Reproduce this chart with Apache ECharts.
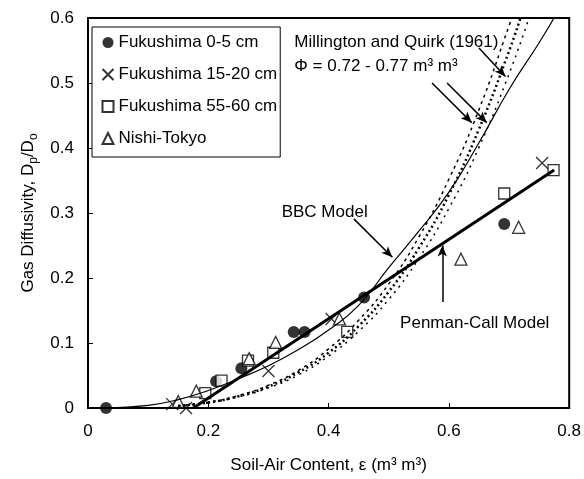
<!DOCTYPE html>
<html>
<head>
<meta charset="utf-8">
<script src="https://cdn.jsdelivr.net/npm/echarts@6/dist/echarts.min.js"></script>
<style>
  html, body { margin: 0; padding: 0; background: #fff; }
  #main { width: 584px; height: 479px; }
</style>
</head>
<body>
<div id="main"></div>
<script>
// measured points: [soil-air content, Dp/Do]
const fuku0_5 = [[0.03, 0.0], [0.213, 0.041], [0.255, 0.061], [0.342, 0.117], [0.36, 0.117], [0.459, 0.17], [0.692, 0.283]];
const fuku15_20 = [[0.14, 0.006], [0.163, 0.0], [0.30, 0.057], [0.405, 0.137], [0.755, 0.377]];
const fuku55_60 = [[0.195, 0.023], [0.222, 0.042], [0.266, 0.073], [0.308, 0.085], [0.431, 0.117], [0.692, 0.33], [0.774, 0.366]];
const nishiTokyo = [[0.15, 0.01], [0.18, 0.026], [0.268, 0.076], [0.312, 0.101], [0.418, 0.137], [0.62, 0.229], [0.716, 0.278]];

// model curves
const bbcModel = [[0.03, 0], [0.1, 0.004], [0.15, 0.013], [0.2, 0.027], [0.25, 0.045], [0.3, 0.065], [0.35, 0.09],
  [0.4, 0.12], [0.45, 0.158], [0.5, 0.216], [0.55, 0.272], [0.6, 0.332], [0.65, 0.408], [0.7, 0.49], [0.75, 0.562], [0.778, 0.605]];
const penmanCall = [[0.175, 0], [0.775, 0.366]];
const mqA = [[0.15, 0.0035], [0.2, 0.009], [0.25, 0.019], [0.3, 0.035], [0.35, 0.058], [0.4, 0.091], [0.45, 0.135],
  [0.5, 0.191], [0.55, 0.263], [0.6, 0.352], [0.65, 0.459], [0.7, 0.588], [0.705, 0.602]];
const mqB = [[0.15, 0.0033], [0.2, 0.0084], [0.25, 0.018], [0.3, 0.033], [0.35, 0.055], [0.4, 0.085], [0.45, 0.126],
  [0.5, 0.179], [0.55, 0.246], [0.6, 0.328], [0.65, 0.429], [0.7, 0.549], [0.72, 0.603]];
const mqC = [[0.15, 0.0031], [0.2, 0.0079], [0.25, 0.017], [0.3, 0.031], [0.35, 0.051], [0.4, 0.08], [0.45, 0.118],
  [0.5, 0.167], [0.55, 0.23], [0.6, 0.307], [0.65, 0.401], [0.7, 0.514], [0.735, 0.605]];

const xTicks = [0, 0.2, 0.4, 0.6, 0.8];
const yTicks = [0, 0.1, 0.2, 0.3, 0.4, 0.5, 0.6];

const FONT = 'Liberation Sans, Arial, sans-serif';
const chart = echarts.init(document.getElementById('main'));

const txt = (coord, text, pos) => ({
  coord: coord, symbol: 'circle', symbolSize: 0,
  label: { show: true, formatter: text, position: pos, distance: 0, color: '#000', fontSize: 17, fontFamily: FONT }
});

const option = {
  animation: false,
  backgroundColor: '#fff',
  grid: { left: 88, right: 13, top: 18, bottom: 70, show: true, borderColor: '#000', borderWidth: 2 },
  legend: {
    data: ['Fukushima 0-5 cm', 'Fukushima 15-20 cm', 'Fukushima 55-60 cm', 'Nishi-Tokyo'],
    orient: 'vertical', left: 92, top: 27,
    itemWidth: 11, itemHeight: 11, itemGap: 15,
    padding: [7, 3, 10, 8],
    borderColor: '#000', borderWidth: 1, backgroundColor: '#fff',
    textStyle: { color: '#000', fontSize: 17, fontFamily: FONT }
  },
  xAxis: {
    type: 'value', min: xTicks[0], max: xTicks[xTicks.length - 1], interval: 0.2,
    name: 'Soil-Air Content, ε (m³ m³)', nameLocation: 'middle', nameGap: 49,
    nameTextStyle: { color: '#000', fontSize: 17, fontFamily: FONT },
    axisLine: { lineStyle: { color: '#000', width: 2 } },
    axisTick: { inside: true, length: 5, lineStyle: { color: '#000' } },
    axisLabel: { color: '#000', fontSize: 17, fontFamily: FONT, margin: 15 },
    splitLine: { show: false }
  },
  yAxis: {
    type: 'value', min: yTicks[0], max: yTicks[yTicks.length - 1], interval: 0.1,
    name: 'Gas Diffusivity, D{s|p}/D{s|o}', nameLocation: 'middle', nameGap: 45,
    nameTextStyle: {
      color: '#000', fontSize: 17, fontFamily: FONT, lineHeight: 22,
      rich: { s: { fontSize: 12, fontFamily: FONT, color: '#000', verticalAlign: 'bottom', lineHeight: 22 } }
    },
    axisLine: { lineStyle: { color: '#000', width: 2 } },
    axisTick: { inside: true, length: 5, lineStyle: { color: '#000' } },
    axisLabel: { color: '#000', fontSize: 17, fontFamily: FONT, margin: 14 },
    splitLine: { show: false }
  },
  series: [
    { name: 'MQ 0.72', type: 'line', data: mqA, smooth: true, showSymbol: false, silent: true,
      lineStyle: { color: '#000', width: 1.5, type: [3, 4] } },
    { name: 'MQ 0.745', type: 'line', data: mqB, smooth: true, showSymbol: false, silent: true,
      lineStyle: { color: '#000', width: 2.5, type: [2, 3] } },
    { name: 'MQ 0.77', type: 'line', data: mqC, smooth: true, showSymbol: false, silent: true,
      lineStyle: { color: '#000', width: 1.5, type: [2, 5] } },
    { name: 'Penman-Call', type: 'line', data: penmanCall, showSymbol: false, silent: true,
      lineStyle: { color: '#000', width: 3 } },
    { name: 'BBC', type: 'line', data: bbcModel, smooth: true, showSymbol: false, silent: true,
      lineStyle: { color: '#000', width: 1.2 },
      markLine: {
        silent: true, symbol: ['none', 'arrow'], symbolSize: [7, 11],
        lineStyle: { color: '#000', width: 1.5, type: 'solid' },
        label: { show: false },
        data: [
          [{ coord: [0.442, 0.291] }, { coord: [0.506, 0.232] }],
          [{ coord: [0.589, 0.163] }, { coord: [0.589, 0.25] }],
          [{ coord: [0.65, 0.554] }, { coord: [0.694, 0.51] }],
          [{ coord: [0.572, 0.5] }, { coord: [0.638, 0.439] }],
          [{ coord: [0.597, 0.5] }, { coord: [0.663, 0.439] }]
        ]
      },
      markPoint: {
        silent: true,
        data: [
          txt([0.3935, 0.301], 'BBC Model', 'inside'),
          txt([0.643, 0.131], 'Penman-Call Model', 'inside'),
          txt([0.343, 0.563], 'Millington and Quirk (1961)', 'right'),
          txt([0.343, 0.526], 'Φ = 0.72 - 0.77 m³ m³', 'right')
        ]
      }
    },
    { name: 'Fukushima 0-5 cm', type: 'scatter', data: fuku0_5, symbol: 'circle', symbolSize: 12,
      itemStyle: { color: '#000' } },
    { name: 'Fukushima 15-20 cm', type: 'scatter', data: fuku15_20, symbol: 'path://M0,0L10,10M10,0L0,10', symbolSize: 12,
      itemStyle: { color: 'none', borderColor: '#000', borderWidth: 1.3 } },
    { name: 'Fukushima 55-60 cm', type: 'scatter', data: fuku55_60, symbol: 'rect', symbolSize: 11,
      itemStyle: { color: '#fff', borderColor: '#000', borderWidth: 1.3 } },
    { name: 'Nishi-Tokyo', type: 'scatter', data: nishiTokyo, symbol: 'triangle', symbolSize: 12,
      itemStyle: { color: '#fff', borderColor: '#000', borderWidth: 1.3 } }
  ]
};
chart.setOption(option);
</script>
</body>
</html>
